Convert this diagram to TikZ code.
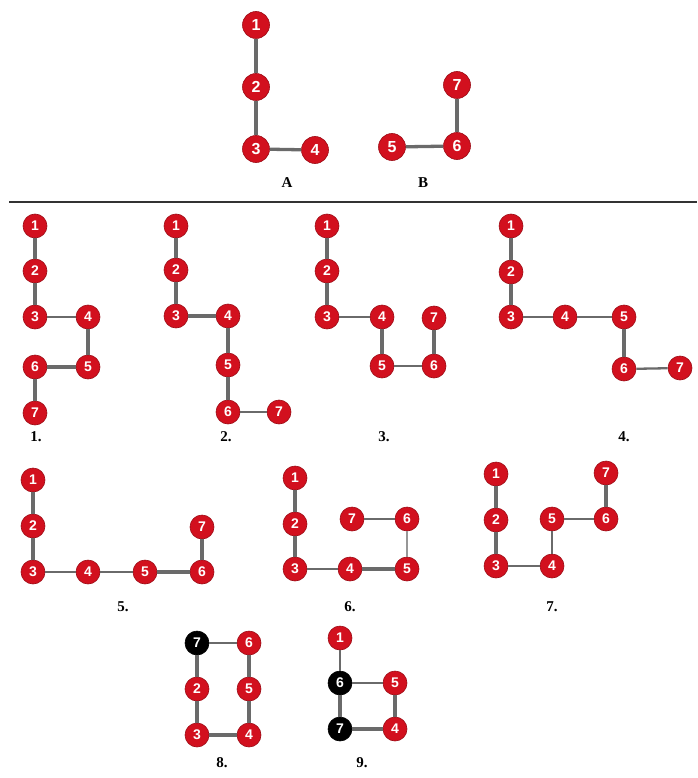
\documentclass[tikz,border=0pt]{standalone}
\usepackage{fontspec}
\setmainfont{Liberation Serif}
\newfontfamily\numfont{Liberation Sans}
\definecolor{nodered}{HTML}{D2101E}
\definecolor{edgegray}{HTML}{6A6A6A}
\tikzset{
  vx/.style={circle, fill=nodered, draw=nodered!75!black, line width=0.6pt, minimum size=24pt, inner sep=0pt, text=white, font=\numfont\bfseries\fontsize{14}{15}\selectfont},
  bigvx/.style={vx, minimum size=27pt, font=\numfont\bfseries\fontsize{16}{17}\selectfont},
  blackvx/.style={vx, fill=black, draw=black},
  ed/.style={draw=edgegray, line width=3.3pt},
  edt/.style={draw=edgegray, line width=2.3pt},
  lab/.style={font=\bfseries\fontsize{15}{16}\selectfont, text=black, inner sep=0pt}
}
\begin{document}
\begin{tikzpicture}[x=1pt,y=-1pt]
\useasboundingbox[fill=white] (0,0) rectangle (697,778);
% ---- A ----
\node[bigvx] (a1) at (256,25) {1};
\node[bigvx] (a2) at (256,87) {2};
\node[bigvx] (a3) at (256,149) {3};
\node[bigvx] (a4) at (315,150) {4};
\draw[ed] (a1) -- (a2); \draw[ed] (a2) -- (a3); \draw[ed] (a3) -- (a4);
\node[lab] (la) at (287,183) {A};
% ---- B ----
\node[bigvx] (b7) at (457,85) {7};
\node[bigvx] (b6) at (457,146) {6};
\node[bigvx] (b5) at (392,147) {5};
\draw[ed] (b7) -- (b6); \draw[ed] (b5) -- (b6);
\node[lab] (lb) at (423,183) {B};
% separator
\coordinate (sepl) at (9,202);
\coordinate (sepr) at (697,202);
\draw[line width=1.4pt, draw=black!80] (sepl) -- (sepr);
% ---- 1 ----
\node[vx] (p1n1) at (35,226) {1};
\node[vx] (p1n2) at (35,271) {2};
\node[vx] (p1n3) at (35,317) {3};
\node[vx] (p1n4) at (88,317) {4};
\node[vx] (p1n5) at (88,367) {5};
\node[vx] (p1n6) at (35,367) {6};
\node[vx] (p1n7) at (35,413) {7};
\draw[ed] (p1n1) -- (p1n2); \draw[ed] (p1n2) -- (p1n3); \draw[edt] (p1n3) -- (p1n4);
\draw[ed] (p1n4) -- (p1n5); \draw[ed] (p1n5) -- (p1n6); \draw[ed] (p1n6) -- (p1n7);
\node[lab] (l1) at (36,437) {1.};
% ---- 2 ----
\node[vx] (p2n1) at (176,226) {1};
\node[vx] (p2n2) at (176,270) {2};
\node[vx] (p2n3) at (176,316) {3};
\node[vx] (p2n4) at (228,316) {4};
\node[vx] (p2n5) at (228,365) {5};
\node[vx] (p2n6) at (228,412) {6};
\node[vx] (p2n7) at (279,412) {7};
\draw[ed] (p2n1) -- (p2n2); \draw[ed] (p2n2) -- (p2n3); \draw[ed] (p2n3) -- (p2n4);
\draw[ed] (p2n4) -- (p2n5); \draw[ed] (p2n5) -- (p2n6); \draw[edt] (p2n6) -- (p2n7);
\node[lab] (l2) at (226,437) {2.};
% ---- 3 ----
\node[vx] (p3n1) at (327,226) {1};
\node[vx] (p3n2) at (327,271) {2};
\node[vx] (p3n3) at (327,317) {3};
\node[vx] (p3n4) at (382,317) {4};
\node[vx] (p3n5) at (382,366) {5};
\node[vx] (p3n6) at (434,366) {6};
\node[vx] (p3n7) at (434,318) {7};
\draw[ed] (p3n1) -- (p3n2); \draw[ed] (p3n2) -- (p3n3); \draw[edt] (p3n3) -- (p3n4);
\draw[ed] (p3n4) -- (p3n5); \draw[edt] (p3n5) -- (p3n6); \draw[ed] (p3n6) -- (p3n7);
\node[lab] (l3) at (384,437) {3.};
% ---- 4 ----
\node[vx] (p4n1) at (511,226) {1};
\node[vx] (p4n2) at (511,272) {2};
\node[vx] (p4n3) at (511,317) {3};
\node[vx] (p4n4) at (565,317) {4};
\node[vx] (p4n5) at (624,317) {5};
\node[vx] (p4n6) at (624,369) {6};
\node[vx] (p4n7) at (680,368) {7};
\draw[ed] (p4n1) -- (p4n2); \draw[ed] (p4n2) -- (p4n3); \draw[edt] (p4n3) -- (p4n4);
\draw[edt] (p4n4) -- (p4n5); \draw[ed] (p4n5) -- (p4n6); \draw[edt] (p4n6) -- (p4n7);
\node[lab] (l4) at (624,437) {4.};
% ---- 5 ----
\node[vx] (p5n1) at (33,480) {1};
\node[vx] (p5n2) at (33,526) {2};
\node[vx] (p5n3) at (33,572) {3};
\node[vx] (p5n4) at (88,572) {4};
\node[vx] (p5n5) at (145,572) {5};
\node[vx] (p5n6) at (202,572) {6};
\node[vx] (p5n7) at (202,527) {7};
\draw[ed] (p5n1) -- (p5n2); \draw[ed] (p5n2) -- (p5n3); \draw[edt] (p5n3) -- (p5n4);
\draw[edt] (p5n4) -- (p5n5); \draw[ed] (p5n5) -- (p5n6); \draw[ed] (p5n6) -- (p5n7);
\node[lab] (l5) at (123,607) {5.};
% ---- 6 ----
\node[vx] (p6n1) at (295,478) {1};
\node[vx] (p6n2) at (295,524) {2};
\node[vx] (p6n3) at (295,569) {3};
\node[vx] (p6n4) at (350,569) {4};
\node[vx] (p6n5) at (407,569) {5};
\node[vx] (p6n6) at (407,519) {6};
\node[vx] (p6n7) at (352,519) {7};
\draw[ed] (p6n1) -- (p6n2); \draw[ed] (p6n2) -- (p6n3); \draw[edt] (p6n3) -- (p6n4);
\draw[ed] (p6n4) -- (p6n5); \draw[draw=edgegray!70, line width=1.4pt] (p6n5) -- (p6n6); \draw[edt] (p6n6) -- (p6n7);
\node[lab] (l6) at (350,607) {6.};
% ---- 7 ----
\node[vx] (p7n1) at (496,474) {1};
\node[vx] (p7n2) at (496,520) {2};
\node[vx] (p7n3) at (496,566) {3};
\node[vx] (p7n4) at (552,566) {4};
\node[vx] (p7n5) at (552,519) {5};
\node[vx] (p7n6) at (606,519) {6};
\node[vx] (p7n7) at (606,473) {7};
\draw[ed] (p7n1) -- (p7n2); \draw[ed] (p7n2) -- (p7n3); \draw[edt] (p7n3) -- (p7n4);
\draw[edt] (p7n4) -- (p7n5); \draw[edt] (p7n5) -- (p7n6); \draw[ed] (p7n6) -- (p7n7);
\node[lab] (l7) at (552,607) {7.};
% ---- 8 ----
\node[blackvx] (p8n7) at (197,643) {7};
\node[vx] (p8n6) at (249,643) {6};
\node[vx] (p8n2) at (197,689) {2};
\node[vx] (p8n5) at (249,689) {5};
\node[vx] (p8n3) at (197,735) {3};
\node[vx] (p8n4) at (249,735) {4};
\draw[edt] (p8n7) -- (p8n6); \draw[ed] (p8n7) -- (p8n2); \draw[ed] (p8n2) -- (p8n3);
\draw[ed] (p8n3) -- (p8n4); \draw[ed] (p8n4) -- (p8n5); \draw[ed] (p8n5) -- (p8n6);
\node[lab] (l8) at (222,763) {8.};
% ---- 9 ----
\node[vx] (p9n1) at (340,638) {1};
\node[blackvx] (p9n6) at (340,683) {6};
\node[vx] (p9n5) at (395,683) {5};
\node[blackvx] (p9n7) at (340,729) {7};
\node[vx] (p9n4) at (395,729) {4};
\draw[edt] (p9n1) -- (p9n6); \draw[ed] (p9n6) -- (p9n7); \draw[edt] (p9n6) -- (p9n5);
\draw[ed] (p9n5) -- (p9n4); \draw[ed] (p9n4) -- (p9n7);
\node[lab] (l9) at (362,763) {9.};
\end{tikzpicture}
\end{document}
